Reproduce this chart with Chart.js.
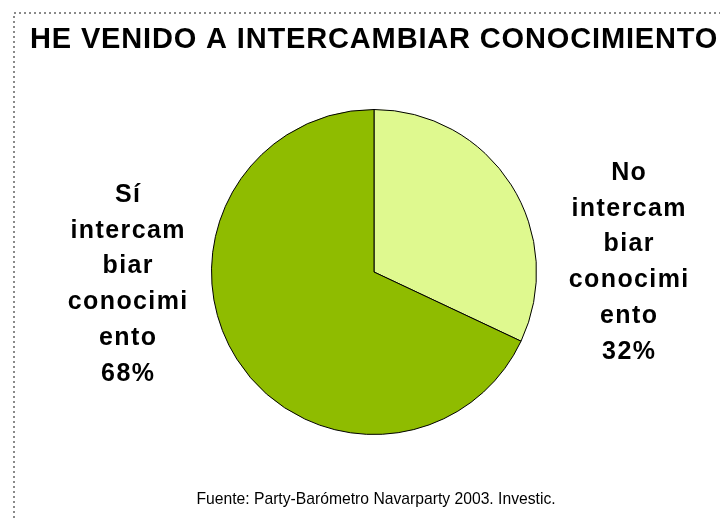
<!DOCTYPE html>
<html>
<head>
<meta charset="utf-8">
<script src="https://cdn.jsdelivr.net/npm/chart.js@4.4.1/dist/chart.umd.min.js"></script>
<style>
html,body{margin:0;padding:0;background:#fff;}
#wrap{width:720px;height:518px;position:relative;}
</style>
</head>
<body>
<div id="wrap"><canvas id="c" width="720" height="518"></canvas></div>
<script>
const chartTitle = 'HE VENIDO A INTERCAMBIAR CONOCIMIENTO';
const sourceNote = 'Fuente: Party-Barómetro Navarparty 2003. Investic.';
const categories = ['No intercambiar conocimiento', 'Sí intercambiar conocimiento'];
const labelLines = [
  ['No', 'intercam', 'biar', 'conocimi', 'ento'],
  ['Sí', 'intercam', 'biar', 'conocimi', 'ento']
];
const values = [32, 68];
const sliceColors = ['#DFF98F', '#8FBC00'];

const FONT = '"Liberation Sans", Arial, sans-serif';

const decorPlugin = {
  id: 'decor',
  beforeDraw(chart) {
    const ctx = chart.ctx;
    ctx.save();
    ctx.fillStyle = '#fff';
    ctx.fillRect(0, 0, chart.width, chart.height);
    ctx.strokeStyle = '#8a8a8a';
    ctx.lineWidth = 2;
    ctx.setLineDash([2, 3]);
    ctx.beginPath();
    ctx.moveTo(14, chart.height);
    ctx.lineTo(14, 13);
    ctx.lineTo(chart.width, 13);
    ctx.stroke();
    ctx.restore();
  },
  afterDraw(chart) {
    const ctx = chart.ctx;
    ctx.save();
    ctx.fillStyle = '#000';
    ctx.textBaseline = 'alphabetic';
    // title
    ctx.font = 'bold 29px ' + FONT;
    ctx.letterSpacing = '0.85px';
    ctx.textAlign = 'left';
    ctx.fillText(chartTitle, 30, 48);
    // footer
    ctx.font = '15.7px ' + FONT;
    ctx.letterSpacing = '0px';
    ctx.textAlign = 'center';
    ctx.fillText(sourceNote, 376, 504);
    // slice labels
    const meta = chart.getDatasetMeta(0);
    const arc = meta.data[0];
    const cx = arc.x, cy = arc.y, r = arc.outerRadius;
    ctx.font = 'bold 25px ' + FONT;
    ctx.letterSpacing = '1.4px';
    const total = values.reduce((a, b) => a + b, 0);
    const positions = [
      {x: cx + r + 92, y: cy - 92},
      {x: cx - r - 84, y: cy - 70}
    ];
    values.forEach((v, i) => {
      const lines = labelLines[i].concat([Math.round(v / total * 100) + '%']);
      lines.forEach((ln, k) => {
        ctx.fillText(ln, positions[i].x + 0.7, positions[i].y + k * 35.7);
      });
    });
    ctx.restore();
  }
};

new Chart(document.getElementById('c'), {
  type: 'pie',
  data: {
    labels: categories,
    datasets: [{
      data: values,
      backgroundColor: sliceColors,
      borderColor: '#000',
      borderWidth: 1,
      borderAlign: 'center'
    }]
  },
  options: {
    responsive: false,
    animation: false,
    devicePixelRatio: 1,
    layout: { padding: { top: 109, bottom: 83, left: 211, right: 183 } },
    plugins: {
      legend: { display: false },
      tooltip: { enabled: false },
      title: { display: false }
    }
  },
  plugins: [decorPlugin]
});
</script>
</body>
</html>
